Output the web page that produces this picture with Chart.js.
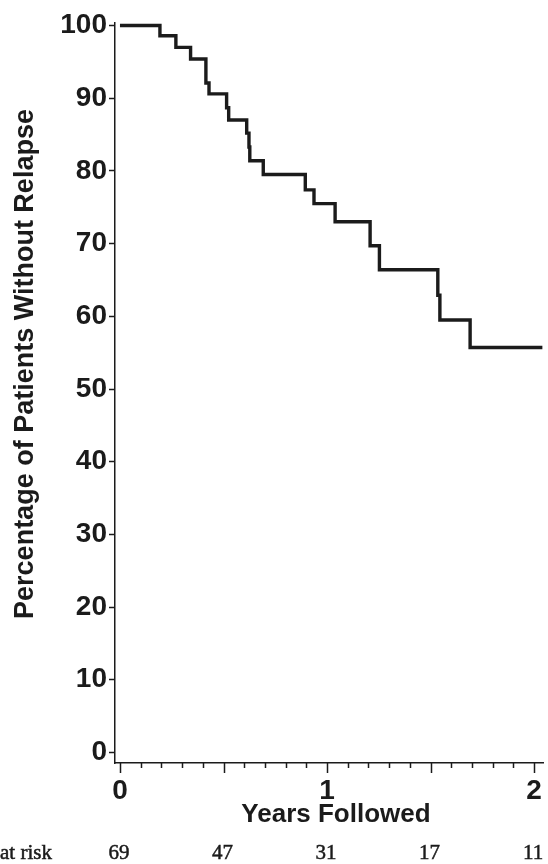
<!DOCTYPE html>
<html>
<head>
<meta charset="utf-8">
<script src="https://cdn.jsdelivr.net/npm/chart.js@4.4.0/dist/chart.umd.min.js"></script>
<style>
  body { margin: 0; background: #fff; }
  canvas { display: block; }
</style>
</head>
<body>
<canvas id="kmChart" width="548" height="864"></canvas>
<script>
// Kaplan-Meier curve: time (years) of each step and % still without relapse after it
const yearsFollowed = [0, 0.193, 0.27, 0.341, 0.415, 0.43, 0.515, 0.525, 0.612, 0.623, 0.627, 0.692, 0.895, 0.937, 1.039, 1.208, 1.253, 1.535, 1.545, 1.691, 2.04];
const pctWithoutRelapse = [100, 98.6, 97.0, 95.4, 92.1, 90.6, 88.7, 87.0, 85.2, 83.3, 81.4, 79.5, 77.4, 75.5, 73.0, 69.7, 66.4, 62.9, 59.5, 55.7, 55.7];

const yTickValues = [0, 10, 20, 30, 40, 50, 60, 70, 80, 90, 100];
const xLabelTicks = [0, 1, 2];
const xMajorTicks = [0, 0.5, 1, 1.5, 2];
const xMinorTicks = [0, 0.1, 0.2, 0.3, 0.4, 0.5, 0.6, 0.7, 0.8, 0.9, 1, 1.1, 1.2, 1.3, 1.4, 1.5, 1.6, 1.7, 1.8, 1.9, 2];

const atRiskTimes = [0, 0.5, 1, 1.5, 2];
const atRiskCounts = [69, 47, 31, 17, 11];

const ink = '#1b1b1b';

// extra drawing: x tick marks of two lengths, axis titles, at-risk row
const kmExtras = {
    id: 'kmExtras',
    afterDraw(chart) {
        let ctx = chart.ctx;
        let xs = chart.scales.x;
        let area = chart.chartArea;
        ctx.save();
        ctx.strokeStyle = ink;
        ctx.lineWidth = 1.5;
        xMinorTicks.forEach(v => {
            let px = Math.round(xs.getPixelForValue(v)) + 0.5;
            let len = xMajorTicks.includes(v) ? 10 : 5;
            ctx.beginPath();
            ctx.moveTo(px, area.bottom);
            ctx.lineTo(px, area.bottom + len);
            ctx.stroke();
        });

        ctx.fillStyle = ink;
        ctx.font = 'bold 26px "Liberation Sans", Arial, sans-serif';
        ctx.textAlign = 'center';
        ctx.textBaseline = 'middle';
        ctx.fillText('Years Followed', (area.left + area.right) / 2 + 7, 815);

        // y title
        ctx.save();
        ctx.translate(33, 364);
        ctx.rotate(-Math.PI / 2);
        ctx.font = 'bold 27px "Liberation Sans", Arial, sans-serif';
        ctx.textBaseline = 'alphabetic';
        ctx.fillText('Percentage of Patients Without Relapse', 0, 0);
        ctx.restore();

        // number at risk
        ctx.font = '21px "Liberation Serif", "Times New Roman", serif';
        ctx.lineWidth = 0.5;
        ctx.textAlign = 'left';
        ctx.fillText('at risk', 0, 853);
        ctx.strokeText('at risk', 0, 853);
        ctx.textAlign = 'center';
        atRiskTimes.forEach((t, i) => {
            let px = xs.getPixelForValue(t) - 1;
            ctx.fillText(String(atRiskCounts[i]), px, 853);
            ctx.strokeText(String(atRiskCounts[i]), px, 853);
        });
        ctx.restore();
    }
};

let ctx = document.getElementById('kmChart').getContext('2d');
let kmChart = new Chart(ctx, {
    type: 'line',
    data: {
        datasets: [{
            label: 'Without relapse',
            data: yearsFollowed.map((t, i) => ({ x: t, y: pctWithoutRelapse[i] })),
            stepped: 'before',
            borderColor: ink,
            borderWidth: 3.4,
            borderJoinStyle: 'miter',
            pointRadius: 0,
            fill: false,
            clip: false
        }]
    },
    options: {
        responsive: false,
        animation: false,
        devicePixelRatio: 1,
        layout: { padding: { top: 23, right: 5, left: 0, bottom: 0 } },
        plugins: {
            legend: { display: false },
            tooltip: { enabled: false }
        },
        scales: {
            x: {
                type: 'linear',
                min: -0.024,
                max: 2.043,
                afterBuildTicks: s => { s.ticks = xLabelTicks.map(v => ({ value: v })); },
                afterFit: s => { s.height = 101; s.paddingLeft = 0; s.paddingRight = 0; },
                border: { display: true, color: ink, width: 1.5 },
                grid: { drawOnChartArea: false, drawTicks: false },
                ticks: {
                    color: ink,
                    padding: 11,
                    maxRotation: 0,
                    font: { family: '"Liberation Sans", Arial, sans-serif', size: 28, weight: 'bold' }
                }
            },
            y: {
                type: 'linear',
                min: -1.45,
                max: 100.35,
                afterBuildTicks: s => { s.ticks = yTickValues.map(v => ({ value: v })); },
                afterFit: s => { s.width = 115; s.paddingTop = 0; s.paddingBottom = 0; },
                border: { display: true, color: ink, width: 1.5 },
                grid: { drawOnChartArea: false, drawTicks: true, tickLength: 6, tickColor: ink, tickWidth: 1.5 },
                ticks: {
                    color: ink,
                    padding: 2,
                    font: { family: '"Liberation Sans", Arial, sans-serif', size: 28, weight: 'bold' }
                }
            }
        }
    },
    plugins: [kmExtras]
});
</script>
</body>
</html>
